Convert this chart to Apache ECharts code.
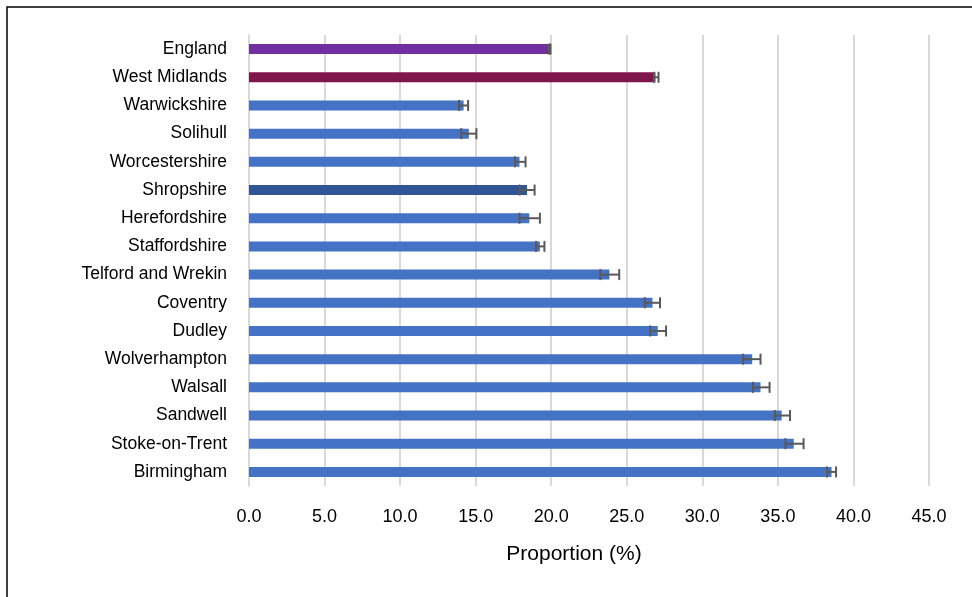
<!DOCTYPE html>
<html>
<head>
<meta charset="utf-8">
<script src="https://cdn.jsdelivr.net/npm/echarts@6/dist/echarts.min.js"></script>
<style>html,body{margin:0;padding:0;background:#fff}#c{width:972px;height:597px}</style>
</head>
<body>
<div id="c"></div>
<script>
var categories = ["England","West Midlands","Warwickshire","Solihull","Worcestershire","Shropshire","Herefordshire","Staffordshire","Telford and Wrekin","Coventry","Dudley","Wolverhampton","Walsall","Sandwell","Stoke-on-Trent","Birmingham"];
var values = [19.9, 26.9, 14.2, 14.55, 17.9, 18.4, 18.55, 19.25, 23.85, 26.7, 27.05, 33.3, 33.85, 35.25, 36.05, 38.55];
var lower  = [19.85, 26.8, 13.9, 14.05, 17.6, 17.9, 17.9, 19.0, 23.25, 26.2, 26.55, 32.7, 33.35, 34.8, 35.5, 38.25];
var upper  = [19.95, 27.1, 14.5, 15.05, 18.3, 18.9, 19.25, 19.55, 24.5, 27.2, 27.6, 33.85, 34.45, 35.8, 36.7, 38.85];
var xTicks = [0, 5, 10, 15, 20, 25, 30, 35, 40, 45];
var barColors = {"England": "#7030A0", "West Midlands": "#7F174D", "Shropshire": "#2F5597"};
var defaultColor = "#4472C4";

var chart = echarts.init(document.getElementById('c'), null, {renderer: 'canvas'});
var font = '"Liberation Sans", Arial, sans-serif';
var errData = categories.map(function (c, i) { return [i, lower[i], upper[i]]; });

chart.setOption({
  animation: false,
  backgroundColor: '#ffffff',
  grid: {left: 249, right: 43, top: 35, bottom: 111, containLabel: false},
  xAxis: {
    type: 'value', min: xTicks[0], max: xTicks[xTicks.length - 1], interval: 5,
    axisLine: {show: false}, axisTick: {show: false},
    axisLabel: {color: '#000', fontFamily: font, fontSize: 18, margin: 22,
      formatter: function (v) { return v.toFixed(1); }},
    splitLine: {show: true, lineStyle: {color: '#d9d9d9', width: 2}},
    name: 'Proportion (%)', nameLocation: 'middle', nameGap: 58,
    nameTextStyle: {color: '#000', fontFamily: font, fontSize: 21, padding: [0, 30, 0, 0]}
  },
  yAxis: {
    type: 'category', data: categories, inverse: true,
    axisLine: {show: true, lineStyle: {color: '#d9d9d9', width: 2}},
    axisTick: {show: false},
    axisLabel: {color: '#000', fontFamily: font, fontSize: 17.5, margin: 22}
  },
  series: [
    {
      type: 'bar', barWidth: 10,
      data: values.map(function (v, i) {
        return {value: v, itemStyle: {color: barColors[categories[i]] || defaultColor}};
      }),
      z: 2
    },
    {
      type: 'custom', z: 3,
      data: errData,
      renderItem: function (params, api) {
        var y = api.value(0);
        var p1 = api.coord([api.value(1), y]);
        var p2 = api.coord([api.value(2), y]);
        var h = 5.5;
        var st = {stroke: '#595959', lineWidth: 2};
        return {
          type: 'group',
          children: [
            {type: 'line', shape: {x1: p1[0], y1: p1[1], x2: p2[0], y2: p2[1]}, style: st},
            {type: 'line', shape: {x1: p1[0], y1: p1[1] - h, x2: p1[0], y2: p1[1] + h}, style: st},
            {type: 'line', shape: {x1: p2[0], y1: p2[1] - h, x2: p2[0], y2: p2[1] + h}, style: st}
          ]
        };
      }
    }
  ],
  graphic: [{
    type: 'rect', silent: true, z: 10,
    shape: {x: 7, y: 7, width: 990, height: 620},
    style: {fill: 'none', stroke: '#000', lineWidth: 1.5}
  }]
});
</script>
</body>
</html>
